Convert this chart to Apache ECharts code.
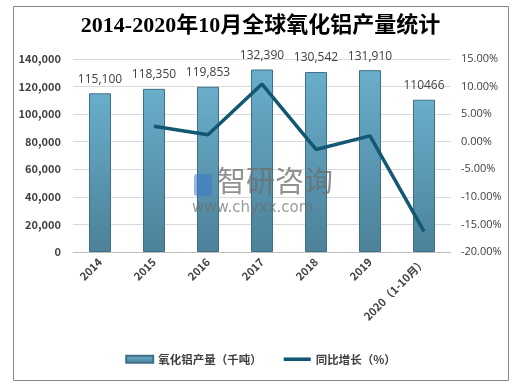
<!DOCTYPE html>
<html><head><meta charset="utf-8">
<script src="https://cdn.jsdelivr.net/npm/echarts@6/dist/echarts.min.js"></script>
<style>html,body{margin:0;padding:0;background:#fff}#c{width:521px;height:387px}</style>
</head><body><div id="c"></div>
<script>
const categories = ['2014','2015','2016','2017','2018','2019','2020（1-10月）'];
const production = [115100, 118350, 119853, 132390, 130542, 131910, 110466];
const productionLabels = ['115,100','118,350','119,853','132,390','130,542','131,910','110466'];
const growth = [null, 2.82, 1.27, 10.46, -1.40, 1.05, -16.26];
const leftTicks = [0, 140000, 20000];
const rightTicks = [-20, 15, 5];

const chart = echarts.init(document.getElementById('c'), null, {renderer:'canvas'});
const axisFont = {color:'#404040', fontSize:11, fontWeight:'bold', fontFamily:'"Noto Sans CJK SC", "Open Sans", sans-serif'};
chart.setOption({
  animation:false,
  backgroundColor:'#fff',
  title:{text:'2014-2020年10月全球氧化铝产量统计', left:'center', top:10,
    textStyle:{fontSize:22, fontWeight:'bold', color:'#000', fontFamily:'"Liberation Serif","DejaVu Serif","Noto Sans CJK SC",serif'}},
  graphic:[
    {type:'rect', shape:{x:13.5,y:6.5,width:495,height:374}, style:{fill:'none', stroke:'#888', lineWidth:1}, silent:true},
    {type:'rect', shape:{x:194,y:174,width:18,height:22,r:3}, style:{fill:'rgba(60,120,200,0.55)'}, z:10, silent:true},
    {type:'text', left:217, top:166, style:{text:'智研咨询', fontSize:29, fill:'rgba(110,110,110,0.75)', fontFamily:'"Noto Sans CJK SC",sans-serif'}, z:10},
    {type:'text', left:192, top:201, style:{text:'www.chyxx.com', fontSize:15, fill:'rgba(110,110,110,0.7)', fontFamily:'"DejaVu Sans",sans-serif'}, z:10}
  ],
  grid:{left:73, right:70, top:59, bottom:135, containLabel:false},
  legend:{bottom:17, left:'center', itemGap:22, itemWidth:27, itemHeight:7,
    textStyle:{color:'#404040', fontSize:11.5, fontWeight:'bold', fontFamily:'"Noto Sans CJK SC",sans-serif'},
    data:[{name:'氧化铝产量（千吨）', icon:'rect'}, {name:'同比增长（%）', icon:'path://M0,2 L30,2 L30,6 L0,6 Z'}]},
  xAxis:{type:'category', data:categories, boundaryGap:true,
    axisLine:{lineStyle:{color:'#bfbfbf'}}, axisTick:{show:false},
    axisLabel:Object.assign({rotate:45, interval:0, margin:8}, axisFont)},
  yAxis:[
    {type:'value', min:leftTicks[0], max:leftTicks[1], interval:leftTicks[2],
     axisLine:{show:false}, axisTick:{show:false},
     splitLine:{lineStyle:{color:'#d9d9d9'}},
     axisLabel:Object.assign({margin:12, formatter:v=>v.toLocaleString('en-US')}, axisFont)},
    {type:'value', min:rightTicks[0], max:rightTicks[1], interval:rightTicks[2],
     axisLine:{show:false}, axisTick:{show:false}, splitLine:{show:false},
     axisLabel:{margin:10, color:'#404040', fontSize:11, fontFamily:'"Open Sans","DejaVu Sans",sans-serif', formatter:v=>v.toFixed(2)+'%'}}
  ],
  series:[
    {name:'氧化铝产量（千吨）', type:'bar', data:production, barWidth:22, yAxisIndex:0,
     itemStyle:{borderColor:'#3f6f86', borderWidth:1,
       color:new echarts.graphic.LinearGradient(0,0,0,1,[{offset:0,color:'#69aecb'},{offset:1,color:'#4c8199'}])},
     label:{show:true, position:'top', distance:8, color:'#404040', fontSize:12,
       fontFamily:'"Open Sans","DejaVu Sans",sans-serif', formatter:p=>productionLabels[p.dataIndex]}},
    {name:'同比增长（%）', type:'line', data:growth, yAxisIndex:1, symbol:'none', connectNulls:false,
     lineStyle:{color:'#135872', width:3.5}, itemStyle:{color:'#135872'}, z:5}
  ]
});
</script></body></html>
